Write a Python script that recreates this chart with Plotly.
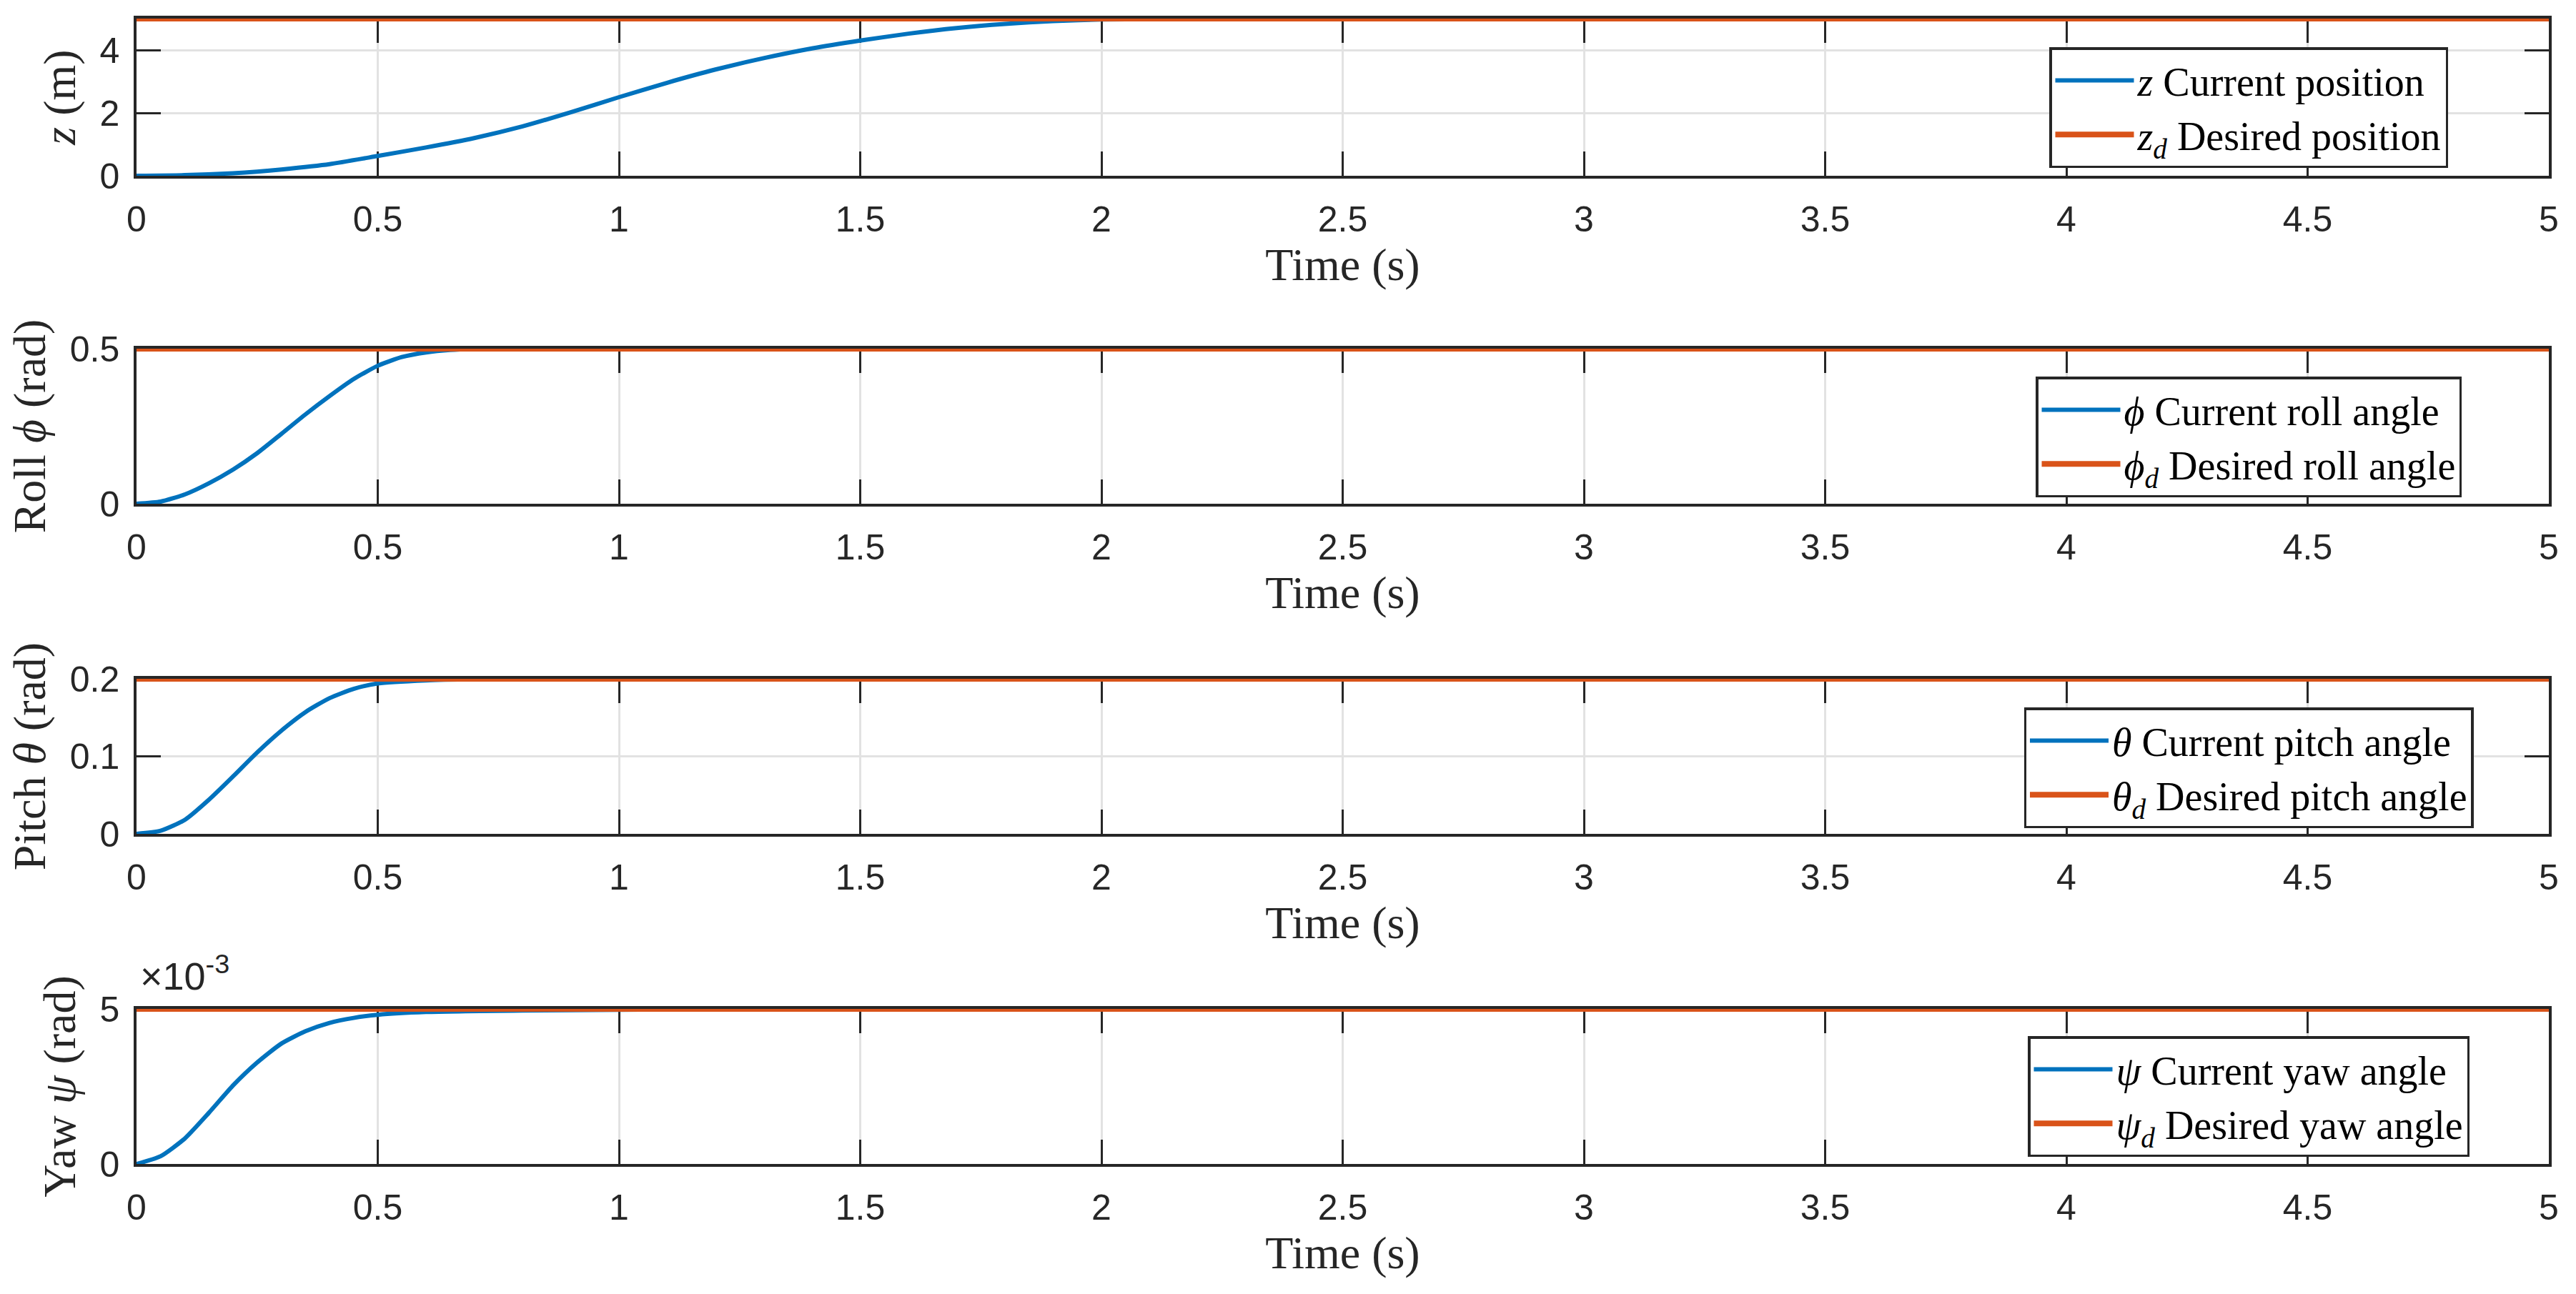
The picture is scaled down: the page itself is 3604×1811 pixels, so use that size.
import plotly.graph_objects as go
from plotly.subplots import make_subplots

# time span of the simulation
t_end = [0, 5]

# altitude z (m)
t_z = [0, 0.1, 0.2, 0.25, 0.3, 0.4, 0.5, 0.6, 0.7, 0.8, 0.9, 1.0, 1.1, 1.2, 1.3,
       1.4, 1.5, 1.6, 1.7, 1.8, 1.9, 2.0, 2.2, 2.5, 3, 4, 5]
z_cur = [0, 0.02, 0.08, 0.13, 0.2, 0.37, 0.63, 0.9, 1.2, 1.57, 2.02, 2.5, 2.96, 3.38, 3.74,
         4.05, 4.3, 4.52, 4.7, 4.83, 4.92, 4.97, 4.99, 5.0, 5.0, 5.0, 5.0]
z_des = [5, 5]

# roll phi (rad)
t_phi = [0, 0.05, 0.1, 0.15, 0.2, 0.25, 0.3, 0.35, 0.4, 0.45, 0.5, 0.55, 0.6, 0.65,
         0.7, 0.8, 1.0, 2, 3, 4, 5]
phi_cur = [0, 0.007, 0.03, 0.066, 0.11, 0.163, 0.225, 0.288, 0.347, 0.402, 0.445, 0.473, 0.488, 0.496,
           0.499, 0.5, 0.5, 0.5, 0.5, 0.5, 0.5]
phi_des = [0.5, 0.5]

# pitch theta (rad)
t_theta = [0, 0.05, 0.1, 0.15, 0.2, 0.25, 0.3, 0.35, 0.4, 0.45, 0.5, 0.6, 0.7, 0.8,
           1.0, 2, 3, 4, 5]
theta_cur = [0, 0.004, 0.018, 0.044, 0.074, 0.105, 0.133, 0.157, 0.175, 0.187, 0.194, 0.198, 0.1995, 0.2,
             0.2, 0.2, 0.2, 0.2, 0.2]
theta_des = [0.2, 0.2]

# yaw psi (rad)
t_psi = [0, 0.05, 0.1, 0.15, 0.2, 0.25, 0.3, 0.35, 0.4, 0.45, 0.5, 0.6, 0.8, 1.0,
         1.25, 1.5, 2, 3, 4, 5]
psi_cur = [0, 0.00025, 0.00082, 0.00165, 0.00253, 0.00327, 0.00388, 0.00428, 0.00455, 0.00471,
           0.00481, 0.0049, 0.00495, 0.00497, 0.005, 0.005, 0.005, 0.005, 0.005, 0.005]
psi_des = [0.005, 0.005]

y_titles = ["<i>z</i> (m)", "Roll <i>ϕ</i> (rad)", "Pitch <i>θ</i> (rad)", "Yaw <i>ψ</i> (rad)"]
cur_names = ["<i>z</i> Current position", "<i>ϕ</i> Current roll angle",
             "<i>θ</i> Current pitch angle", "<i>ψ</i> Current yaw angle"]
des_names = ["<i>z</i><sub><i>d</i></sub> Desired position", "<i>ϕ</i><sub><i>d</i></sub> Desired roll angle",
             "<i>θ</i><sub><i>d</i></sub> Desired pitch angle", "<i>ψ</i><sub><i>d</i></sub> Desired yaw angle"]
y_ranges = [[0, 5], [0, 0.5], [0, 0.2], [0, 0.005]]
y_ticks = [[0, 2, 4], [0, 0.5], [0, 0.1, 0.2], [0, 0.005]]
y_ticktext = [["0", "2", "4"], ["0", "0.5"], ["0", "0.1", "0.2"], ["0", "5"]]

series = [(t_z, z_cur, z_des), (t_phi, phi_cur, phi_des),
          (t_theta, theta_cur, theta_des), (t_psi, psi_cur, psi_des)]

BLUE = "#0072BD"
ORANGE = "#D95319"
DARK = "#262626"
SANS = "Liberation Sans Narrow, Liberation Sans, Arial"
SERIF = "Liberation Serif, Times New Roman, serif"

W, H = 3604, 1811
# axes boxes in pixels (top, bottom)
boxes = [(26, 246), (488, 705), (950, 1167), (1412, 1629)]
x_left, x_right = 191, 3566
legend_tops = [66, 527, 990, 1450]
legend_cx = 3146

fig = make_subplots(rows=4, cols=1)

for i, (t, cur, des) in enumerate(series):
    leg = "legend" if i == 0 else f"legend{i + 1}"
    fig.add_trace(go.Scatter(x=t, y=cur, mode="lines", name=cur_names[i],
                             line=dict(color=BLUE, width=6, shape="spline", smoothing=0.6),
                             legend=leg, cliponaxis=False), row=i + 1, col=1)
    fig.add_trace(go.Scatter(x=t_end, y=des, mode="lines", name=des_names[i],
                             line=dict(color=ORANGE, width=8),
                             legend=leg, cliponaxis=False), row=i + 1, col=1)

axis_common = dict(
    ticks="inside", ticklen=34, tickwidth=3, tickcolor=DARK,
    showline=True, linewidth=3.5, linecolor=DARK, mirror="ticks",
    showgrid=True, gridcolor="#e2e2e2", gridwidth=2.5, zeroline=False,
    layer="below traces", automargin=False,
    tickfont=dict(family=SANS, size=50, color=DARK),
)

for i in range(4):
    top, bot = boxes[i]
    fig.update_xaxes(
        range=[0, 5], tick0=0, dtick=0.5,
        domain=[x_left / W, x_right / W],
        title=dict(text="Time (s)", font=dict(family=SERIF, size=64, color=DARK), standoff=8),
        ticklabelstandoff=14,
        row=i + 1, col=1, **axis_common)
    fig.update_yaxes(
        range=y_ranges[i], tickmode="array", tickvals=y_ticks[i], ticktext=y_ticktext[i],
        domain=[1 - bot / H, 1 - top / H],
        title=dict(text=y_titles[i], font=dict(family=SERIF, size=64, color=DARK), standoff=14),
        ticklabelstandoff=10,
        row=i + 1, col=1, **axis_common)

legend_style = dict(
    x=legend_cx / W, xanchor="center", yanchor="top",
    bgcolor="white", bordercolor=DARK, borderwidth=3.5,
    font=dict(family=SERIF, size=56, color="black"),
    itemwidth=110, tracegroupgap=0,
)
fig.update_layout(
    width=W, height=H,
    margin=dict(l=0, r=0, t=0, b=0),
    paper_bgcolor="white", plot_bgcolor="white",
    showlegend=True,
    legend=dict(y=1 - legend_tops[0] / H, **legend_style),
    legend2=dict(y=1 - legend_tops[1] / H, **legend_style),
    legend3=dict(y=1 - legend_tops[2] / H, **legend_style),
    legend4=dict(y=1 - legend_tops[3] / H, **legend_style),
)

# exponent label of the yaw axis
fig.add_annotation(text="×10<sup>-3</sup>", xref="paper", yref="paper",
                   x=194 / W, y=1 - 1398 / H, xanchor="left", yanchor="bottom",
                   showarrow=False, font=dict(family=SANS, size=54, color=DARK))

# page margin off so the figure sits exactly in the window
fig.write_html("out.html", config={"displayModeBar": False},
               post_script="document.body.style.margin='0';document.body.style.overflow='hidden';")
